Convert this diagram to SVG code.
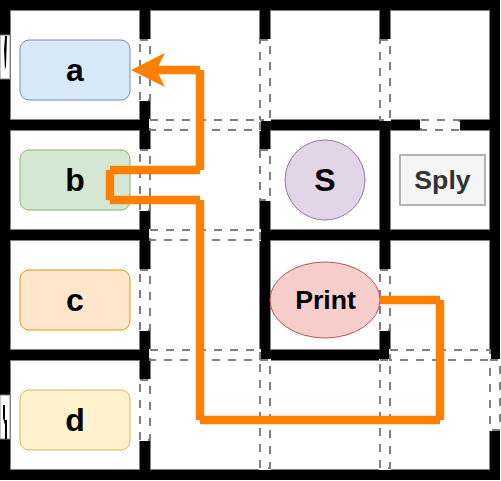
<svg xmlns="http://www.w3.org/2000/svg" width="501" height="481" viewBox="0 0 501 481">
<style>
.room{fill:#fff;stroke:#808080;stroke-width:1}
.door{fill:#fff;stroke:#808080;stroke-width:2;stroke-dasharray:8 8}
.lbl{font-family:"Liberation Sans",Arial,sans-serif;font-weight:bold;text-anchor:middle;fill:#000}
.big{font-size:32px}
.mid{font-size:26.67px}
.wire{fill:none;stroke:#ff8000;stroke-width:8.4;stroke-linecap:butt}
</style>
<rect x="0" y="0" width="501" height="481" fill="#fff"/>
<g id="walls">
<rect x="0" y="0" width="500" height="480" fill="#000"/>
<rect class="room" x="10.5" y="10.5" width="129" height="109"/>
<rect class="room" x="10.5" y="130.5" width="129" height="99"/>
<rect class="room" x="10.5" y="240.5" width="129" height="109"/>
<rect class="room" x="10.5" y="360.5" width="129" height="109"/>
<rect class="room" x="150.5" y="10.5" width="109" height="459"/>
<rect class="room" x="270.5" y="10.5" width="109" height="109"/>
<rect class="room" x="390.5" y="10.5" width="99" height="109"/>
<rect class="room" x="270.5" y="130.5" width="109" height="99"/>
<rect class="room" x="390.5" y="130.5" width="99" height="99"/>
<rect class="room" x="270.5" y="240.5" width="109" height="109"/>
<rect class="room" x="390.5" y="240.5" width="99" height="109"/>
<rect class="room" x="270.5" y="360.5" width="109" height="109"/>
<rect class="room" x="390.5" y="360.5" width="99" height="109"/>
</g>
<g id="doors">
<path fill="#fff" d="M139 39h12v62h-12zM139 149h12v62h-12zM139 269h12v62h-12zM139 379h12v62h-12zM259 39h12v82h-12zM379 39h12v82h-12zM259 149h12v52h-12zM379 269h12v62h-12zM259 359h12v111h-12zM379 359h12v111h-12zM489 359h12v72h-12zM149 119h112v12h-112zM149 229h112v12h-112zM149 349h112v12h-112zM389 349h102v12h-102zM420 119h40v12h-40z"/>
<rect class="door" x="140" y="40" width="10" height="60"/>
<rect class="door" x="140" y="150" width="10" height="60"/>
<rect class="door" x="140" y="270" width="10" height="60"/>
<rect class="door" x="140" y="380" width="10" height="60"/>
<rect class="door" x="260" y="40" width="10" height="80"/>
<rect class="door" x="380" y="40" width="10" height="80"/>
<rect class="door" x="260" y="150" width="10" height="50"/>
<rect class="door" x="380" y="270" width="10" height="60"/>
<rect class="door" x="260" y="360" width="10" height="108"/>
<rect class="door" x="380" y="360" width="10" height="108"/>
<rect class="door" x="490" y="360" width="10" height="70"/>
<rect class="door" x="150" y="120" width="110" height="10"/>
<rect class="door" x="150" y="230" width="110" height="10"/>
<rect class="door" x="150" y="350" width="110" height="10"/>
<rect class="door" x="390" y="350" width="100" height="10"/>
<rect class="door" x="421" y="120" width="38" height="10"/>
<rect x="0" y="35" width="10" height="44" fill="#fff" stroke="#808080"/>
<polygon points="5,36 7,36 6,66 5,70 4,50" fill="#000"/>
<rect x="0" y="395" width="10" height="44" fill="#fff" stroke="#808080"/>
<polygon points="3,405 5,405 5,420 7,420 7,439 5,439 5,425 3,418" fill="#000"/>
</g>
<g id="node-a"><rect x="20" y="40" width="110" height="60" rx="9" fill="#dae8fc" stroke="#6c8ebf"/><text class="lbl big" x="75" y="81">a</text></g>
<g id="node-b"><rect x="20" y="150" width="110" height="60" rx="9" fill="#d5e8d4" stroke="#82b366"/><text class="lbl big" x="75" y="191">b</text></g>
<g id="node-c"><rect x="20" y="270" width="110" height="60" rx="9" fill="#ffe6cc" stroke="#d79b00"/><text class="lbl big" x="75" y="311">c</text></g>
<g id="node-d"><rect x="20" y="390" width="110" height="60" rx="9" fill="#fff2cc" stroke="#d6b656"/><text class="lbl big" x="75" y="431">d</text></g>
<g id="node-s"><circle cx="325" cy="180" r="40" fill="#e1d5e7" stroke="#9673a6"/><text class="lbl big" x="325" y="191">S</text></g>
<g id="node-print"><ellipse cx="325" cy="300" rx="55" ry="38" fill="#f8cecc" stroke="#b85450"/><text class="lbl mid" x="325.5" y="309">Print</text></g>
<g id="node-sply"><rect x="400" y="155" width="85" height="50" fill="#f5f5f5" stroke="#b3b3b3" stroke-width="2"/><text class="lbl mid" x="442.5" y="189" style="fill:#333">Sply</text></g>
<g id="connectors">
<path class="wire" d="M380 300H440M440 300V420M440 420H200M200 420V200M200 200H110M110 200V170M110 170H200M200 170V70M200 70H156"/>
<path d="M131 70L165 53L156.5 70L165 87Z" fill="#ff8000"/>
</g>
</svg>
